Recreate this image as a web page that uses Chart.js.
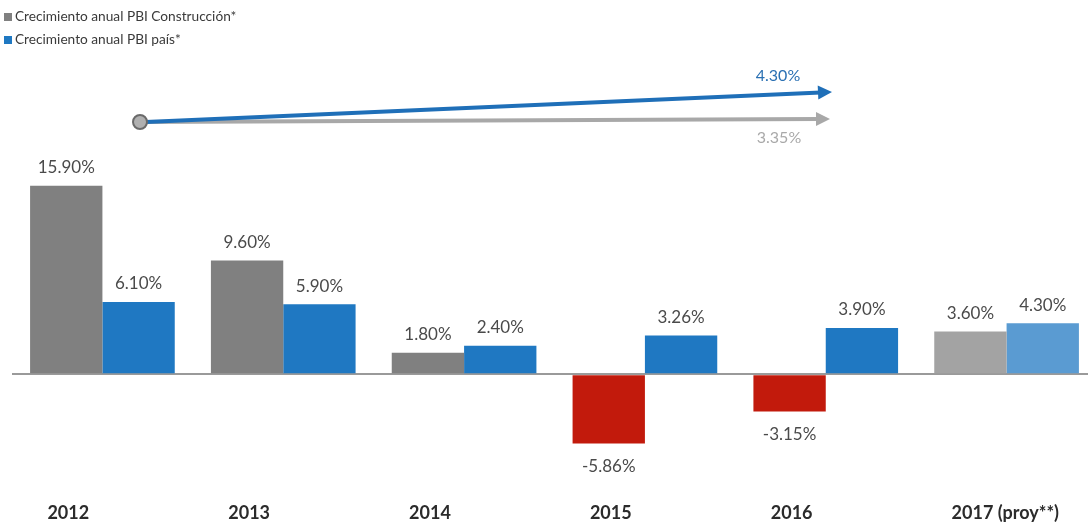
<!DOCTYPE html>
<html>
<head>
<meta charset="utf-8">
<script src="https://cdn.jsdelivr.net/npm/chart.js@4/dist/chart.umd.min.js"></script>
<style>
  html, body { margin: 0; padding: 0; background: #ffffff; overflow: hidden; }
  #wrap { width: 1100px; height: 526px; }
</style>
</head>
<body>
<div id="wrap"><canvas id="c" width="1100" height="526"></canvas></div>
<script>
// Categories and series
const years = ['2012', '2013', '2014', '2015', '2016', '2017 (proy**)'];
const construccion = [15.90, 9.60, 1.80, -5.86, -3.15, 3.60];
const pais = [6.10, 5.90, 2.40, 3.26, 3.90, 4.30];
const seriesNames = ['Crecimiento anual PBI Construcción*', 'Crecimiento anual PBI país*'];
// Period averages shown by the trend arrows
const trendValues = [4.30, 3.35];

const GRAY = '#808080', BLUE = '#1f78c2', RED = '#c21a0c';
const GRAY_PROJ = '#a3a3a3', BLUE_PROJ = '#5a9bd2';

const constColors = construccion.map((v, i) =>
  i === years.length - 1 ? GRAY_PROJ : (v < 0 ? RED : GRAY));
const paisColors = pais.map((v, i) => i === years.length - 1 ? BLUE_PROJ : BLUE);

const fmt = v => v.toFixed(2) + '%';

// Value labels above positive bars, below negative bars
const valueLabels = {
  id: 'valueLabels',
  afterDatasetsDraw(chart) {
    const ctx = chart.ctx;
    ctx.save();
    ctx.font = '17px Lato';
    ctx.fillStyle = '#4a4a4a';
    ctx.textAlign = 'center';
    ctx.textBaseline = 'middle';
    chart.data.datasets.forEach((ds, di) => {
      chart.getDatasetMeta(di).data.forEach((bar, i) => {
        const v = ds.data[i];
        const y = v >= 0 ? bar.y - 18 : bar.y + 23;
        ctx.fillText(fmt(v), bar.x, y);
      });
    });
    ctx.restore();
  }
};

// Legend in the top-left corner
const cornerLegend = {
  id: 'cornerLegend',
  afterDraw(chart) {
    const ctx = chart.ctx;
    ctx.save();
    ctx.font = '13.7px Lato';
    ctx.textBaseline = 'middle';
    const rows = [17, 40];
    chart.data.datasets.forEach((ds, i) => {
      ctx.fillStyle = ds.legendColor;
      ctx.fillRect(4, rows[i] - 4, 8, 8);
      ctx.fillStyle = '#3a3a3a';
      ctx.fillText(ds.label, 15, rows[i]);
    });
    ctx.restore();
  }
};

// Trend arrows above the bars
function arrow(ctx, x0, y0, x1, y1, color, w) {
  const ang = Math.atan2(y1 - y0, x1 - x0);
  const head = 14;
  ctx.strokeStyle = color;
  ctx.fillStyle = color;
  ctx.lineWidth = w;
  ctx.beginPath();
  ctx.moveTo(x0, y0);
  ctx.lineTo(x1 - Math.cos(ang) * head * 0.8, y1 - Math.sin(ang) * head * 0.8);
  ctx.stroke();
  ctx.beginPath();
  ctx.moveTo(x1, y1);
  ctx.lineTo(x1 - head * Math.cos(ang) + 7 * Math.sin(ang), y1 - head * Math.sin(ang) - 7 * Math.cos(ang));
  ctx.lineTo(x1 - head * Math.cos(ang) - 7 * Math.sin(ang), y1 - head * Math.sin(ang) + 7 * Math.cos(ang));
  ctx.closePath();
  ctx.fill();
}
const trendArrows = {
  id: 'trendArrows',
  afterDraw(chart) {
    const ctx = chart.ctx;
    ctx.save();
    arrow(ctx, 140, 122, 830, 119, '#a8a8a8', 4);
    arrow(ctx, 146, 122, 832, 92, '#1f6fb8', 4);
    ctx.beginPath();
    ctx.arc(140, 122, 7, 0, Math.PI * 2);
    ctx.fillStyle = '#b0b0b0';
    ctx.fill();
    ctx.lineWidth = 2;
    ctx.strokeStyle = '#6a6a6a';
    ctx.stroke();
    ctx.font = '16px Lato';
    ctx.textAlign = 'center';
    ctx.textBaseline = 'middle';
    ctx.fillStyle = '#2a70b3';
    ctx.fillText(fmt(trendValues[0]), 778, 76);
    ctx.fillStyle = '#a9a9a9';
    ctx.fillText(fmt(trendValues[1]), 779, 138);
    ctx.restore();
  }
};

new Chart(document.getElementById('c'), {
  type: 'bar',
  data: {
    labels: years,
    datasets: [
      { label: seriesNames[0], data: construccion, backgroundColor: constColors, legendColor: GRAY },
      { label: seriesNames[1], data: pais, backgroundColor: paisColors, legendColor: BLUE }
    ]
  },
  options: {
    responsive: false,
    animation: false,
    layout: { padding: { left: 12, right: 3, top: 161, bottom: 4 } },
    datasets: { bar: { categoryPercentage: 0.8, barPercentage: 1.0 } },
    plugins: { legend: { display: false }, tooltip: { enabled: false } },
    scales: {
      x: {
        grid: { display: false, drawTicks: false },
        border: { display: false },
        afterFit: scale => {
          scale.height = 59;
          scale.paddingLeft = 0;
          scale.paddingRight = 0;
        },
        ticks: {
          padding: 39,
          align: 'start',
          labelOffset: -55,
          maxRotation: 0,
          color: '#2b2b2b',
          font: { family: 'Lato', size: 18, weight: 'bold' }
        }
      },
      y: {
        min: -7.5,
        max: 18,
        border: { display: false },
        ticks: { display: false, stepSize: 1 },
        grid: {
          drawTicks: false,
          lineWidth: ctx => ctx.tick && ctx.tick.value === 0 ? 2 : 0,
          color: ctx => ctx.tick && ctx.tick.value === 0 ? '#9a9a9a' : 'rgba(0,0,0,0)'
        }
      }
    }
  },
  plugins: [valueLabels, cornerLegend, trendArrows]
});
</script>
</body>
</html>
